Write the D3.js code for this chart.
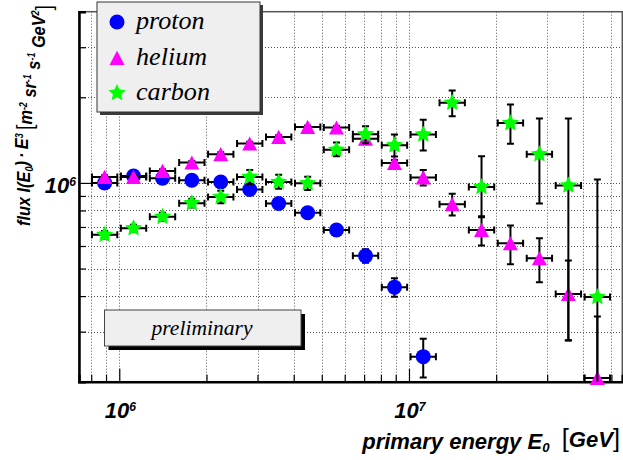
<!DOCTYPE html>
<html>
<head>
<meta charset="utf-8">
<script src="https://cdn.jsdelivr.net/npm/d3@7"></script>
<style>
  html, body { margin: 0; padding: 0; background: #fff; }
  svg { display: block; }
</style>
</head>
<body>
<div id="chart"></div>
<script>
// bin centres of primary energy [GeV]
const energies = [8.9e5, 1.12e6, 1.41e6, 1.78e6, 2.24e6, 2.82e6, 3.55e6, 4.47e6, 5.62e6,
  7.08e6, 8.91e6, 1.12e7, 1.41e7, 1.78e7, 2.24e7, 2.82e7, 3.55e7, 4.47e7];

// flux * E^3 values
const protonFlux = [1.00e6, 1.058e6, 1.039e6, 1.022e6, 1.008e6, 0.948e6, 0.847e6, 0.785e6,
  0.683e6, 0.554e6, 0.430e6, 0.245e6];
const protonErr = [0.015e6, 0.015e6, 0.015e6, 0.015e6, 0.015e6, 0.015e6, 0.02e6, 0.02e6,
  0.025e6, 0.03e6, 0.032e6, 0.038e6];

const heliumFlux = [1.05e6, 1.05e6, 1.102e6, 1.179e6, 1.261e6, 1.375e6, 1.45e6, 1.572e6,
  1.565e6, 1.431e6, 1.175e6, 1.045e6, 0.842e6, 0.683e6, 0.613e6, 0.543e6, 0.407e6, 0.206e6];
const heliumErr = [0.015e6, 0.015e6, 0.015e6, 0.015e6, 0.02e6, 0.02e6, 0.02e6, 0.02e6,
  0.02e6, 0.025e6, 0.03e6, 0.065e6, 0.074e6, 0.08e6, 0.095e6, 0.096e6, 0.127e6, 0.133e6];

const carbonFlux = [0.657e6, 0.693e6, 0.76e6, 0.849e6, 0.893e6, 1.05e6, 1.008e6, 0.998e6,
  1.308e6, 1.482e6, 1.356e6, 1.479e6, 1.915e6, 0.968e6, 1.623e6, 1.261e6, 0.979e6, 0.397e6];
const carbonErrLow = [0.02e6, 0.02e6, 0.025e6, 0.03e6, 0.045e6, 0.06e6, 0.055e6, 0.053e6,
  0.068e6, 0.102e6, 0.118e6, 0.18e6, 0.198e6, 0.21e6, 0.25e6, 0.414e6, 0.70e6, 0.63e6];
const carbonErrHigh = [0.02e6, 0.02e6, 0.025e6, 0.03e6, 0.045e6, 0.06e6, 0.06e6, 0.053e6,
  0.078e6, 0.1e6, 0.124e6, 0.19e6, 0.2e6, 0.273e6, 0.265e6, 0.422e6, 0.704e6, 0.631e6];

// horizontal error bar half-width (factor on energy)
const energyErrFactor = 1.106;

const seriesNames = ["proton", "helium", "carbon"];

const xDomain = [7.26e5, 5.45e7];
const yDomain = [2e5, 4e6];
const xMajorTicks = [1e6, 1e7];
const xMinorTicks = [8e5, 9e5, 2e6, 3e6, 4e6, 5e6, 6e6, 7e6, 8e6, 9e6, 2e7, 3e7, 4e7, 5e7];
const yMajorTicks = [1e6];
const yMinorTicks = [3e5, 4e5, 5e5, 6e5, 7e5, 8e5, 9e5, 2e6, 3e6];

const W = 623, H = 460;
const plot = { left: 79, right: 622.3, top: 11.7, bottom: 381.7 };

const svg = d3.select("#chart").append("svg")
  .attr("width", W).attr("height", H)
  .attr("viewBox", `0 0 ${W} ${H}`);

const x = d3.scaleLog().domain(xDomain).range([plot.left, plot.right]);
const y = d3.scaleLog().domain(yDomain).range([plot.bottom, plot.top]);

const SANS = "'Liberation Sans', Arial, Helvetica, sans-serif";
const SERIF = "'Liberation Serif', 'Times New Roman', Times, serif";

// scale a text's font-size so that it spans the wanted width
function fitWidth(sel, target) {
  const w = sel.node().getComputedTextLength();
  const fs = parseFloat(sel.attr("font-size"));
  if (w > 0) sel.attr("font-size", fs * target / w);
  return fs * target / w;
}

function starPath(R) {
  const r = R * 0.48;
  const pts = d3.range(10).map(i => {
    const a = -Math.PI / 2 + i * Math.PI / 5;
    const rr = i % 2 === 0 ? R : r;
    return [rr * Math.cos(a), rr * Math.sin(a)];
  });
  return "M" + pts.map(p => p.map(v => v.toFixed(2)).join(",")).join("L") + "Z";
}

const shapes = {
  proton: { color: "#0000ff", path: d3.symbol(d3.symbolCircle, Math.PI * 7.5 * 7.5)() },
  helium: { color: "#ff00ff", path: "M0,-7.2L7.5,7L-7.5,7Z" },
  carbon: { color: "#00ff00", path: starPath(9) }
};

const series = [
  { name: "proton", flux: protonFlux, lo: protonErr, hi: protonErr },
  { name: "helium", flux: heliumFlux, lo: heliumErr, hi: heliumErr },
  { name: "carbon", flux: carbonFlux, lo: carbonErrLow, hi: carbonErrHigh }
].map(s => ({
  ...s,
  points: s.flux.map((v, i) => ({
    e: energies[i], v, lo: Math.max(v - s.lo[i], 1e4), hi: v + s.hi[i]
  }))
}));

// clip for error bars
svg.append("clipPath").attr("id", "clip")
  .append("rect")
  .attr("x", plot.left).attr("y", plot.top)
  .attr("width", plot.right - plot.left).attr("height", plot.bottom - plot.top);

// Grid
const grid = svg.append("g")
  .attr("stroke", "#555").attr("stroke-width", 1).attr("stroke-dasharray", "1,2");
grid.selectAll(".vg")
  .data(xMajorTicks.concat(xMinorTicks))
  .join("line")
  .attr("x1", d => Math.round(x(d)) + 0.5).attr("x2", d => Math.round(x(d)) + 0.5)
  .attr("y1", plot.top).attr("y2", plot.bottom);
grid.selectAll(".hg")
  .data(yMajorTicks.concat(yMinorTicks))
  .join("line")
  .attr("y1", d => Math.round(y(d)) + 0.5).attr("y2", d => Math.round(y(d)) + 0.5)
  .attr("x1", plot.left).attr("x2", plot.right);

// Frame (top / right) and axes
svg.append("rect")
  .attr("x", plot.left).attr("y", plot.top)
  .attr("width", plot.right - plot.left).attr("height", plot.bottom - plot.top)
  .attr("fill", "none").attr("stroke", "#555").attr("stroke-width", 1.5);

const xAxisG = svg.append("g").attr("transform", `translate(0,${plot.bottom})`);
xAxisG.call(d3.axisBottom(x).tickValues(xMinorTicks).tickSize(-7).tickFormat(""));
xAxisG.append("g")
  .call(d3.axisBottom(x).tickValues(xMajorTicks).tickSize(-13).tickFormat(""))
  .call(g => g.select(".domain").remove());
xAxisG.selectAll(".domain").attr("stroke-width", 2.5);
xAxisG.selectAll(".tick line").attr("stroke-width", 1.2);

const yAxisG = svg.append("g").attr("transform", `translate(${plot.left},0)`);
yAxisG.call(d3.axisLeft(y).tickValues(yMinorTicks).tickSize(-7).tickFormat(""));
yAxisG.append("g")
  .call(d3.axisLeft(y).tickValues(yMajorTicks).tickSize(-13).tickFormat(""))
  .call(g => g.select(".domain").remove());
yAxisG.selectAll(".domain").attr("stroke-width", 2.5);
yAxisG.selectAll(".tick line").attr("stroke-width", 1.2);

// Tick labels with superscripts
function powLabel(sel, d) {
  const exp = Math.round(Math.log10(d));
  sel.append("tspan").text("10");
  sel.append("tspan").attr("font-size", "0.55em").attr("dy", "-0.55em").text(exp);
}
svg.selectAll(".xlab")
  .data(xMajorTicks)
  .join("text")
  .attr("x", d => x(d) + 1).attr("y", 418)
  .attr("text-anchor", "middle")
  .attr("font-family", SANS).attr("font-weight", "bold").attr("font-style", "italic")
  .attr("font-size", 22)
  .each(function (d) { powLabel(d3.select(this), d); });

svg.selectAll(".ylab")
  .data(yMajorTicks)
  .join("text")
  .attr("x", 76).attr("y", y(1e6) + 10)
  .attr("text-anchor", "end")
  .attr("font-family", SANS).attr("font-weight", "bold").attr("font-style", "italic")
  .attr("font-size", 22)
  .each(function (d) { powLabel(d3.select(this), d); });

// Axis titles
const xTitle = svg.append("text")
  .attr("x", 620).attr("y", 449)
  .attr("text-anchor", "end")
  .attr("font-family", SANS).attr("font-weight", "bold").attr("font-style", "italic")
  .attr("font-size", 21);
xTitle.append("tspan").text("primary energy E");
xTitle.append("tspan").attr("font-size", "0.6em").attr("dy", "0.25em").text("0");
xTitle.append("tspan").attr("dy", "-0.25em").text("\u00a0\u00a0");
xTitle.append("tspan").attr("font-weight", "normal").attr("font-style", "normal")
  .attr("font-size", "1.15em").text("[");
xTitle.append("tspan").text("GeV");
xTitle.append("tspan").attr("font-weight", "normal").attr("font-style", "normal")
  .attr("font-size", "1.15em").text("]");
fitWidth(xTitle, 258);

// y title: natural size, squeezed along the text direction to the reference length
const yTitle = svg.append("text")
  .attr("transform", "translate(30,226) rotate(-90)")
  .attr("text-anchor", "start")
  .attr("font-family", SANS).attr("font-weight", "bold").attr("font-style", "italic")
  .attr("font-size", 18.5);
function ySup(t) { yTitle.append("tspan").attr("font-size", "0.55em").attr("dy", "-0.5em").text(t); }
function ySub(t) { yTitle.append("tspan").attr("font-size", "0.55em").attr("dy", "0.25em").text(t); }
function yTxt(t, dy) { yTitle.append("tspan").attr("dy", dy || 0).text(t); }
function yBracket(t, dy) {
  yTitle.append("tspan").attr("font-weight", "normal").attr("font-style", "normal")
    .attr("font-size", "1.2em").attr("dy", dy || 0).text(t);
}
yTxt("flux I(E");
ySub("0");
yTxt(")\u2009\u00b7\u2009E", "-0.25em");
ySup("3");
yTxt("\u2009", "0.5em");
yBracket("[");
yTxt("m");
ySup("-2");
yTxt(" sr", "0.5em");
ySup("-1");
yTxt(" s", "0.5em");
ySup("-1");
yTxt(" GeV", "0.5em");
ySup("2");
yBracket("]", "0.5em");
if (yTitle.node().getComputedTextLength() > 221) {
  yTitle.attr("textLength", 221).attr("lengthAdjust", "spacingAndGlyphs");
}

// Data: error bars then markers, series by series
const cap = 3.5;
series.forEach(s => {
  const g = svg.append("g").attr("class", `series ${s.name}`);
  const bars = g.append("g").attr("clip-path", "url(#clip)")
    .attr("stroke", "#000").attr("stroke-width", 2).attr("fill", "none");

  const pts = s.points;
  // horizontal bars
  bars.selectAll(".hbar")
    .data(pts)
    .join("path")
    .attr("d", d => {
      const x0 = x(d.e / energyErrFactor), x1 = x(d.e * energyErrFactor), yy = y(d.v);
      return `M${x0},${yy}H${x1}M${x0},${yy - cap}V${yy + cap}M${x1},${yy - cap}V${yy + cap}`;
    });
  // vertical bars
  bars.selectAll(".vbar")
    .data(pts)
    .join("path")
    .attr("d", d => {
      const xx = x(d.e), y0 = y(d.lo), y1 = y(d.hi);
      return `M${xx},${y0}V${y1}M${xx - cap},${y0}H${xx + cap}M${xx - cap},${y1}H${xx + cap}`;
    });

  g.selectAll(".marker")
    .data(pts)
    .join("path")
    .attr("transform", d => `translate(${x(d.e)},${y(d.v)})`)
    .attr("d", shapes[s.name].path)
    .attr("fill", shapes[s.name].color);
});

// Legend
const legend = svg.append("g");
legend.append("rect")
  .attr("x", 100).attr("y", 5).attr("width", 163).attr("height", 110)
  .attr("fill", "#3a3a3a");
legend.append("rect")
  .attr("x", 97).attr("y", 2).attr("width", 163).attr("height", 110)
  .attr("fill", "#efefef").attr("stroke", "#333").attr("stroke-width", 1);
const legendRows = [29, 65, 100];
const legendTexts = seriesNames.map((name, i) => {
  legend.append("path")
    .attr("transform", `translate(117,${legendRows[i] - 7})`)
    .attr("d", shapes[name].path)
    .attr("fill", shapes[name].color);
  return legend.append("text")
    .attr("x", 136).attr("y", legendRows[i])
    .attr("font-family", SERIF).attr("font-style", "italic")
    .attr("font-size", 26)
    .text(name);
});
// size all legend labels by the width of "carbon"
const legendSize = fitWidth(legendTexts[2], 74);
legendTexts.forEach(t => t.attr("font-size", legendSize));

// "preliminary" box
const prelim = svg.append("g");
prelim.append("rect")
  .attr("x", 108.5).attr("y", 314).attr("width", 196.5).attr("height", 36)
  .attr("fill", "#000");
prelim.append("rect")
  .attr("x", 104.5).attr("y", 310).attr("width", 196.5).attr("height", 36)
  .attr("fill", "#efefef").attr("stroke", "#444").attr("stroke-width", 1);
const prelimText = prelim.append("text")
  .attr("x", 202).attr("y", 335)
  .attr("text-anchor", "middle")
  .attr("font-family", SERIF).attr("font-style", "italic")
  .attr("font-size", 21)
  .text("preliminary");
fitWidth(prelimText, 101);
</script>
</body>
</html>
